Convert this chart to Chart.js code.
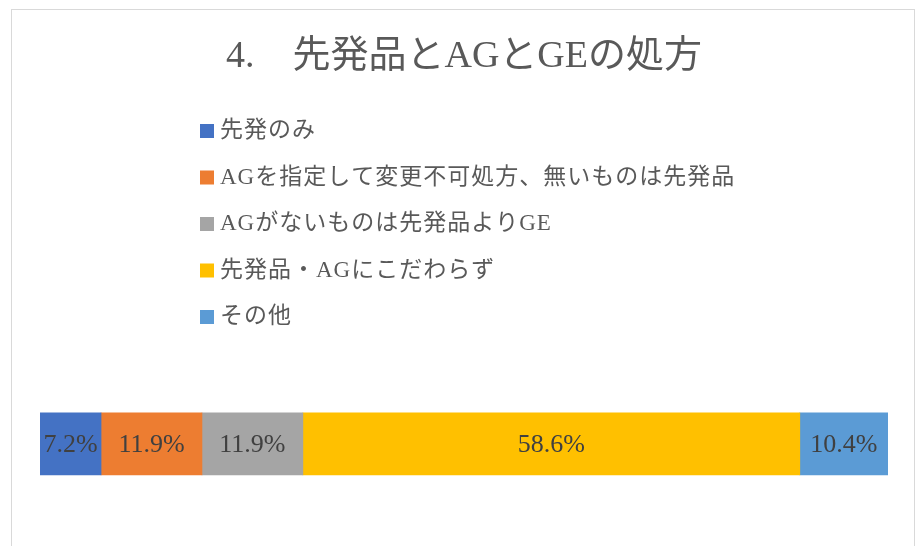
<!DOCTYPE html>
<html>
<head>
<meta charset="utf-8">
<script src="https://cdn.jsdelivr.net/npm/chart.js@4"></script>
<style>
  body { margin: 0; background: #fff; overflow: hidden; }
  .frame { position: absolute; left: 11px; top: 9px; width: 902px; height: 600px; border: 1px solid #d9d9d9; }
  canvas { position: absolute; left: 0; top: 0; }
</style>
</head>
<body>
<div class="frame"></div>
<canvas id="chart" width="922" height="546"></canvas>
<script>
let seriesNames = ["先発のみ", "AGを指定して変更不可処方、無いものは先発品", "AGがないものは先発品よりGE", "先発品・AGにこだわらず", "その他"];
let values = [7.2, 11.9, 11.9, 58.6, 10.4];
let colors = ['#4472C4', '#ED7D31', '#A5A5A5', '#FFC000', '#5B9BD5'];

let fontFamily = "'Liberation Serif', 'Noto Sans CJK JP', serif";

// legend drawn as a vertical list like the original
let listLegend = {
    id: 'listLegend',
    afterDraw(chart) {
        let ctx = chart.ctx;
        ctx.save();
        ctx.font = '23px ' + fontFamily;
        ctx.letterSpacing = '1px';
        ctx.textBaseline = 'middle';
        chart.data.datasets.forEach((ds, i) => {
            let y = 131 + i * 46.5;
            ctx.fillStyle = ds.backgroundColor;
            ctx.fillRect(200, y - 7, 14, 14);
            ctx.fillStyle = '#595959';
            ctx.fillText(ds.label, 220, y);
        });
        ctx.restore();
    }
};

// percent labels inside each segment
let barLabels = {
    id: 'barLabels',
    afterDatasetsDraw(chart) {
        let ctx = chart.ctx;
        ctx.save();
        ctx.font = '26px ' + fontFamily;
        ctx.fillStyle = '#404040';
        ctx.textAlign = 'center';
        ctx.textBaseline = 'middle';
        chart.data.datasets.forEach((ds, i) => {
            let meta = chart.getDatasetMeta(i);
            meta.data.forEach((bar, j) => {
                let cx = (bar.x + bar.base) / 2;
                ctx.fillText(ds.data[j].toFixed(1) + '%', cx, bar.y + 1);
            });
        });
        ctx.restore();
    }
};

let ctx = document.getElementById('chart').getContext('2d');

let chart = new Chart(ctx, {
    type: 'bar',
    data: {
        labels: [''],
        datasets: seriesNames.map((name, i) => ({
            label: name,
            data: [values[i]],
            backgroundColor: colors[i],
            borderWidth: 0,
            barThickness: 62
        }))
    },
    options: {
        indexAxis: 'y',
        responsive: false,
        animation: false,
        layout: {
            padding: { left: 40, right: 34, top: 0, bottom: 58 }
        },
        plugins: {
            title: {
                display: true,
                text: '4.　先発品とAGとGEの処方',
                color: '#595959',
                font: { family: fontFamily, size: 38, weight: 'normal', lineHeight: 1.2 },
                padding: { top: 34, bottom: 320 }
            },
            legend: { display: false },
            tooltip: { enabled: false }
        },
        scales: {
            x: { stacked: true, min: 0, max: 100, display: false },
            y: { stacked: true, display: false }
        }
    },
    plugins: [listLegend, barLabels]
});
</script>
</body>
</html>
